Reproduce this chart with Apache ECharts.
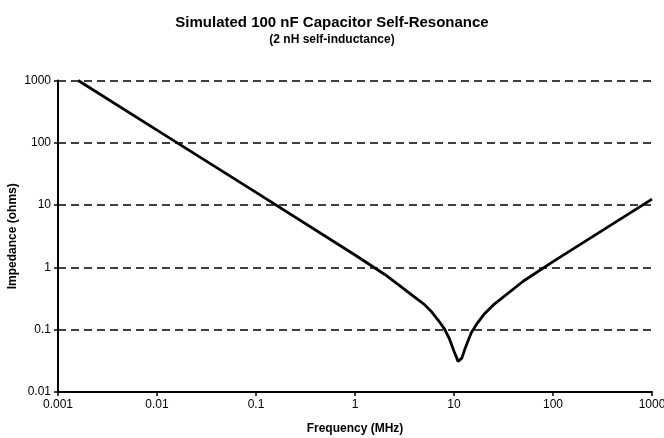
<!DOCTYPE html>
<html>
<head>
    <meta http-equiv="Content-type" content="text/html; charset=utf-8" />
    <title>Capacitor Self-Resonance</title>
    <script src="https://cdn.jsdelivr.net/npm/echarts@6/dist/echarts.min.js"></script>
    <style>
    body { margin: 0; }
    #main { width: 664px; height: 438px; }
    </style>
</head>
<body>
    <div id="main"></div>
    <script type="text/javascript">
        // frequency in MHz, impedance in ohms
        var freq = [0.0016, 0.01, 0.1, 1, 2, 5, 6, 7, 8, 9, 10, 11, 11.25, 12, 13, 14, 15, 17, 20, 25, 50, 100, 1000];
        var imp = [1000, 160, 16, 1.58, 0.77, 0.255, 0.19, 0.139, 0.103, 0.071, 0.045, 0.031, 0.030, 0.035, 0.051, 0.069, 0.09, 0.124, 0.175, 0.25, 0.6, 1.24, 12.5];

        var titleText = 'Simulated 100 nF Capacitor Self-Resonance';
        var subText = '(2 nH self-inductance)';

        var points = [];
        for (var i = 0; i < freq.length; i++) {
            points.push([freq[i], imp[i]]);
        }

        // plain numbers, no thousands separators
        function fmt(v) {
            return String(Number(Number(v).toPrecision(6)));
        }

        var font = 'Liberation Sans, Arial, sans-serif';
        var myChart = echarts.init(document.getElementById('main'));
        myChart.setOption({
            animation: false,
            title: {
                text: titleText,
                subtext: subText,
                left: 'center',
                top: 10,
                itemGap: 4,
                textStyle: { fontFamily: font, fontSize: 15, fontWeight: 'bold', color: '#000' },
                subtextStyle: { fontFamily: font, fontSize: 12, fontWeight: 'bold', color: '#000' }
            },
            grid: { left: 58, right: 12, top: 80.5, bottom: 46, outerBoundsMode: 'none', containLabel: false },
            xAxis: {
                type: 'log',
                logBase: 10,
                min: 0.001,
                max: 1000,
                name: 'Frequency (MHz)',
                nameLocation: 'middle',
                nameGap: 31,
                nameMoveOverlap: false,
                nameTextStyle: { fontFamily: font, fontSize: 12, fontWeight: 'bold', color: '#000' },
                axisLine: { lineStyle: { color: '#000', width: 2 } },
                axisTick: { length: 4, lineStyle: { color: '#000', width: 1.5 } },
                axisLabel: { formatter: fmt, fontFamily: font, fontSize: 12, color: '#000', margin: 7 },
                splitLine: { show: false },
                minorTick: { show: false }
            },
            yAxis: {
                type: 'log',
                logBase: 10,
                min: 0.01,
                max: 1000,
                name: 'Impedance (ohms)',
                nameLocation: 'middle',
                nameGap: 39,
                nameMoveOverlap: false,
                nameTextStyle: { fontFamily: font, fontSize: 12, fontWeight: 'bold', color: '#000' },
                axisLine: { show: true, lineStyle: { color: '#000', width: 2 } },
                axisTick: { show: true, length: 4, lineStyle: { color: '#000', width: 1.5 } },
                axisLabel: { formatter: fmt, fontFamily: font, fontSize: 12, color: '#000', margin: 7 },
                splitLine: { show: true, lineStyle: { color: '#000', width: 1.5, type: [8, 5] } }
            },
            series: [{
                type: 'line',
                data: points,
                showSymbol: false,
                smooth: false,
                clip: true,
                lineStyle: { color: '#000', width: 2.8 }
            }]
        });
    </script>
</body>
</html>
